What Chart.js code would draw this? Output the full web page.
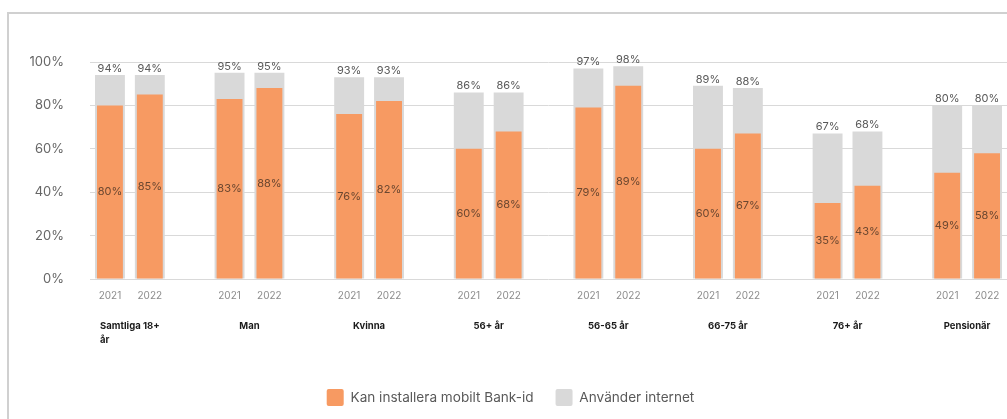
<!DOCTYPE html>
<html>
<head>
<meta charset="utf-8">
<script src="https://cdn.jsdelivr.net/npm/chart.js@4.4.1/dist/chart.umd.min.js"></script>
<style>
  html, body { margin: 0; padding: 0; background: #fff; overflow: hidden; }
  #frame { position: absolute; left: 7px; top: 12px; width: 1100px; height: 500px;
           border-left: 2px solid #d0d0d0; border-top: 2px solid #d0d0d0; }
  #wrap { position: absolute; left: 0; top: 0; width: 1007px; height: 419px; overflow: hidden; }
</style>
</head>
<body>
<div id="frame"></div>
<div id="wrap"><canvas id="chart" width="1007" height="419"></canvas></div>
<script>
// groups along the x axis, each with one bar per year
var groups = [['Samtliga 18+', 'år'], 'Man', 'Kvinna', '56+ år', '56-65 år', '66-75 år', '76+ år', 'Pensionär'];
var years = ['2021', '2022'];

// share (%) that can install mobile Bank-id
var bankId2021 = [80, 83, 76, 60, 79, 60, 35, 49];
var bankId2022 = [85, 88, 82, 68, 89, 67, 43, 58];

// share (%) that uses the internet
var internet2021 = [94, 95, 93, 86, 97, 89, 67, 80];
var internet2022 = [94, 95, 93, 86, 98, 88, 68, 80];

var yTicks = [0, 20, 40, 60, 80, 100];

var FONT = "Inter, 'DejaVu Sans', sans-serif";

// one slot per bar, with an empty slot between groups
var labels = [], bankId = [], internet = [];
for (var g = 0; g < groups.length; g++) {
	if (g > 0) { labels.push(''); bankId.push(null); internet.push(null); }
	labels.push(years[0]); bankId.push(bankId2021[g]); internet.push(internet2021[g]);
	labels.push(years[1]); bankId.push(bankId2022[g]); internet.push(internet2022[g]);
}

// value labels: totals above the grey bars, Bank-id share in the middle of the orange bars
var barLabels = {
	id: 'barLabels',
	afterDatasetsDraw: function(chart) {
		var ctx = chart.ctx;
		var front = chart.getDatasetMeta(0), back = chart.getDatasetMeta(1);
		ctx.save();
		ctx.font = "11px " + FONT;
		ctx.textAlign = 'center';
		back.data.forEach(function(el, i) {
			var v = internet[i];
			if (v == null) return;
			ctx.fillStyle = '#595959';
			ctx.textBaseline = 'bottom';
			ctx.fillText(v + '%', el.x, el.y - 1);
		});
		front.data.forEach(function(el, i) {
			var v = bankId[i];
			if (v == null) return;
			ctx.fillStyle = '#6b4730';
			ctx.textBaseline = 'middle';
			ctx.fillText(v + '%', el.x, (el.y + el.base) / 2);
		});
		ctx.restore();
	}
};

// bold group names under the year labels
var groupLabels = {
	id: 'groupLabels',
	afterDraw: function(chart) {
		var ctx = chart.ctx, x = chart.scales.x;
		ctx.save();
		ctx.font = "bold 9.5px " + FONT;
		ctx.fillStyle = '#1a1a1a';
		ctx.textBaseline = 'middle';
		groups.forEach(function(name, g) {
			var cx = (x.getPixelForValue(g * 3) + x.getPixelForValue(g * 3 + 1)) / 2;
			var lines = Array.isArray(name) ? name : [name];
			var left = cx - ctx.measureText(lines[0]).width / 2;
			ctx.textAlign = 'left';
			lines.forEach(function(line, k) {
				ctx.fillText(line, left, 326 + k * 14);
			});
		});
		ctx.restore();
	}
};

var ctx = document.getElementById('chart').getContext('2d');
var chart = new Chart(ctx, {
	type: 'bar',
	data: {
		labels: labels,
		datasets: [{
			label: 'Kan installera mobilt Bank-id',
			data: bankId,
			backgroundColor: '#f79a62',
			barPercentage: 0.65,
			categoryPercentage: 1
		}, {
			label: 'Använder internet',
			data: internet,
			backgroundColor: '#d9d9d9',
			barPercentage: 0.75,
			categoryPercentage: 1
		}]
	},
	options: {
		responsive: false,
		animation: false,
		devicePixelRatio: 1,
		layout: { padding: { left: 14, right: 0, top: 62, bottom: 3 } },
		plugins: {
			tooltip: { enabled: false },
			legend: {
				position: 'bottom',
				labels: {
					boxWidth: 17,
					boxHeight: 17,
					padding: 22,
					color: '#595959',
					font: { family: FONT, size: 13.6 },
					useBorderRadius: true,
					borderRadius: 2
				}
			}
		},
		scales: {
			x: {
				stacked: true,
				grid: { display: false },
				border: { display: false },
				ticks: {
					color: '#8c8c8c',
					font: { family: FONT, size: 10 },
					padding: 3,
					maxRotation: 0,
					autoSkip: false
				},
				afterFit: function(axis) { axis.height = 88; }
			},
			y: {
				min: 0,
				max: 100,
				afterBuildTicks: function(axis) {
					axis.ticks = yTicks.map(function(v) { return { value: v }; });
				},
				grid: { color: '#d9d9d9', drawTicks: false },
				border: { display: false },
				ticks: {
					color: '#666666',
					font: { family: FONT, size: 13 },
					padding: 26,
					callback: function(v) { return v + '%'; }
				},
				afterFit: function(axis) { axis.width = 76; }
			}
		}
	},
	plugins: [barLabels, groupLabels]
});
</script>
</body>
</html>
